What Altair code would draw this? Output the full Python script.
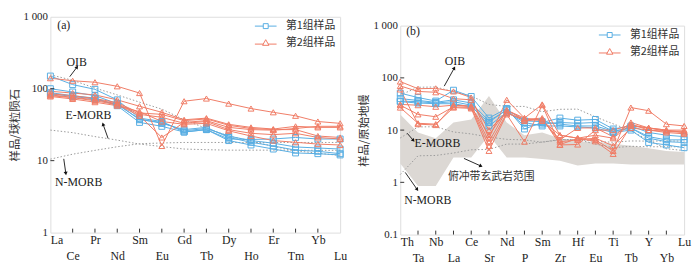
import json
import altair as alt
import pandas as pd

# ---------------- data ----------------
REE = ["La", "Ce", "Pr", "Nd", "Sm", "Eu", "Gd", "Tb", "Dy", "Ho", "Er", "Tm", "Yb", "Lu"]
TRACE = ["Th", "Ta", "Nb", "La", "Ce", "Sr", "Nd", "P", "Sm", "Zr", "Hf", "Eu", "Ti", "Tb", "Y", "Yb", "Lu"]
GROUPS = ["第1组样品", "第2组样品"]

# chondrite-normalised REE, group 1 (blue) and group 2 (red)
ree_g1 = [
    [150, 114, 98, 70, 39, 35, 25, 27, 20, 19.7, 20, 21, 20, 20],
    [100, 90, 80, 62, 37, 34, 26, 28, 22, 19, 17.5, 15.5, 15, 14.5],
    [88, 80, 74, 58, 34, 30, 25, 27, 19, 16.5, 14.5, 12.8, 12.5, 12],
    [85, 78, 72, 60, 38, 33, 27, 29, 21, 18, 16, 14, 13.5, 12.5],
]
ree_g2 = [
    [140, 129, 123, 108, 87, 16, 67, 73, 62, 53, 47, 42, 35, 33],
    [92, 87, 82, 70, 57, 47, 37, 39, 32, 29, 27.5, 30, 29, 29],
    [85, 80, 73, 64, 46, 44, 36, 38, 31, 28, 27, 27, 22, 21],
    [80, 75, 68, 60, 42, 21, 34, 36, 29, 27, 26.5, 28, 30, 30],
    [82, 76, 70, 62, 44, 40, 33, 35, 27, 24, 23, 24, 21, 20],
    [78, 72, 65, 58, 48, 35, 32, 33, 26, 22, 19, 18, 17, 16.5],
]
ree_oib = [156, 131, 102, 82, 65, 52, 37, 28, 22, 18.7, 15.8, 13.7, 12.7, 11.8]
ree_emorb = [26.6, 24.5, 21.6, 19.3, 17.0, 15.7, 14.5, 14.2, 14.0, 14.0, 14.0, 14.0, 13.9, 13.9]
ree_nmorb = [10.5, 12.3, 13.9, 15.6, 17.2, 17.6, 17.9, 17.9, 17.9, 17.8, 17.9, 17.9, 17.9, 17.9]

# primitive-mantle-normalised trace elements
tr_g1 = [
    [51, 42, 36, 58, 44, 17, 26, 10.5, 14, 17, 15.5, 16, 10.5, 12, 9, 8, 7.5],
    [40, 37, 34, 38, 33, 15, 24, 12, 13, 14, 13.5, 14, 9.5, 11, 7.5, 6.5, 6.5],
    [36, 35, 33, 35, 30, 12, 22, 14, 12, 12, 11.5, 11, 9, 10, 5.8, 5.2, 4.6],
    [35, 33, 32, 32, 28, 14, 25, 15, 14.5, 13, 12, 12, 9.5, 11, 7, 6, 5.8],
]
tr_g2 = [
    [85, 62, 63, 55, 42, 7, 38, 17, 31, 8, 7, 6.5, 4.0, 27, 23.5, 13, 12],
    [70, 55, 53, 40, 38, 10, 22, 15, 16, 6.5, 11, 11, 7.5, 14, 11, 10, 10],
    [30, 20, 18, 28, 27, 5, 21, 16, 17, 5.3, 6.9, 6.1, 3.5, 12, 11, 10, 9],
    [27, 13.5, 13, 27, 26, 4, 20, 6, 30, 5.2, 5.3, 10, 10, 12.5, 11, 9.5, 9.5],
    [60, 13, 12.5, 30, 28, 8, 24, 17, 15, 8, 7, 8, 7, 13, 10, 9.5, 9],
    [31, 30, 28, 30, 29, 6, 24, 16, 16, 6, 6.5, 7, 5, 11, 10, 9, 8.5],
]
tr_oib = [47, 66, 67, 54, 45, 31, 28.4, 28.4, 22.5, 25, 25.2, 17.9, 13.2, 9.7, 6.4, 4.4, 4.05]
tr_emorb = [7.06, 11.5, 11.6, 9.2, 8.45, 7.35, 6.65, 6.5, 5.86, 6.5, 6.57, 5.4, 4.6, 4.9, 4.8, 4.8, 4.8]
tr_nmorb = [1.41, 3.22, 3.27, 3.64, 4.2, 4.27, 5.4, 5.4, 5.9, 6.6, 6.6, 6.1, 5.85, 6.2, 6.15, 6.2, 6.15]
arc_upper = [20, 9, 7, 14, 16, 45, 14, 8, 9, 7, 6, 6, 5.5, 5, 4.5, 4, 3.8]
arc_lower = [2.3, 0.85, 0.85, 3, 3, 8, 3, 3, 2.8, 2.6, 2.1, 2.3, 2.3, 2.2, 2.2, 2.2, 2.2]

yticks_a = [1, 10, 100, 1000]
ylabels_a = ["1", "10", "100", "1 000"]
yticks_b = [0.1, 1, 10, 100, 1000]
ylabels_b = ["0.1", "1", "10", "100", "1 000"]

notes_a = [("(a)", 0.6, 767), ("OIB", 1.18, 235), ("E-MORB", 1.71, 42.5), ("N-MORB", 1.27, 5.07)]
arrows_a = [(0.87, 147, 1.18, 197, 35), (2.59, 20.3, 2.37, 31.6, 342), (0.6, 10.6, 0.69, 6.76, 172)]
notes_b = [("(b)", 0.72, 780), ("OIB", 3.08, 210), ("E-MORB", 2.1, 5.76), ("N-MORB", 1.55, 0.455)]
notes_b_cjk = [("俯冲带玄武岩范围", 5.13, 1.26)]
arrows_b = [(2.48, 69.5, 3.03, 151, 28), (0.39, 8.7, 0.72, 6.45, 139),
            (0.28, 1.55, 0.94, 0.74, 146), (3.59, 2.87, 4.52, 2.07, 115)]

# ---------------- style ----------------
BLUE = "#58aee3"
RED = "#f07c66"
REFC = "#9a9a9a"
AREA = "#dcd8d4"
SERIF = "Liberation Serif"
CJK = "Noto Sans CJK SC"
SQ_PATH = "M-2.2,0L-0.5,0M0.5,0L2.2,0M-0.5,-0.5L0.5,-0.5L0.5,0.5L-0.5,0.5Z"
TR_PATH = "M-2.2,0.25L-0.45,0.25M0.45,0.25L2.2,0.25M0,-0.65L0.65,0.5L-0.65,0.5Z"


def samples_df(g1, g2):
    rows = []
    for gname, sets, tag in ((GROUPS[0], g1, "a"), (GROUPS[1], g2, "b")):
        for k, vals in enumerate(sets):
            for i, v in enumerate(vals):
                rows.append({"x": i, "v": v, "group": gname, "sample": f"{tag}{k}"})
    return pd.DataFrame(rows)


def refs_df(refs):
    rows = []
    for name, vals in refs.items():
        for i, v in enumerate(vals):
            rows.append({"x": i, "v": v, "name": name})
    return pd.DataFrame(rows)


def panel(elements, smp, refs, yticks, ylabels, ytitle, width, height,
          notes, arrows, notes_cjk=None, area=None):
    n = len(elements)
    xscale = alt.Scale(domain=[0, n - 1], nice=False, zero=False)
    yscale = alt.Scale(type="log", domain=[yticks[0], yticks[-1]], nice=False)
    names = json.dumps(elements)
    xaxis = alt.Axis(
        values=list(range(n)),
        labelExpr=f"datum.value % 2 == 1 ? ['', {names}[datum.value]] : {names}[datum.value]",
        labelAlign={"expr": "datum.value == 0 ? 'left' : 'center'"},
        title=None, grid=False, domain=False, ticks=False, tickSize=0,
        labelFont=SERIF, labelFontSize=12, labelColor="#222", labelPadding=2,
        labelLineHeight=16, labelOverlap=False, labelFlush=False, labelAngle=0,
    )
    yaxis = alt.Axis(
        values=yticks,
        labelExpr=f"{json.dumps(ylabels)}[indexof({json.dumps(yticks)}, datum.value)]",
        title=ytitle, titleFont=CJK, titleFontSize=11.5, titleFontWeight="normal",
        titleColor="#333", titlePadding=3, grid=False, domain=False, ticks=False,
        tickSize=0, labelFont=SERIF, labelFontSize=11, labelColor="#222", labelPadding=3,
        labelOverlap=False,
    )
    X = alt.X("x:Q", scale=xscale, axis=xaxis)
    Y = alt.Y("v:Q", scale=yscale, axis=yaxis)
    cscale = alt.Scale(domain=GROUPS, range=[BLUE, RED])
    layers = []
    if area is not None:
        layers.append(alt.Chart(area).mark_area(color=AREA, opacity=1).encode(
            x=X, y=alt.Y("hi:Q", scale=yscale, axis=yaxis), y2="lo:Q"))
    layers.append(alt.Chart(refs).mark_line(color=REFC, strokeDash=[1.5, 2], strokeWidth=1).encode(
        x=X, y=Y, detail="name:N"))
    layers.append(alt.Chart(smp).mark_line(strokeWidth=1).encode(
        x=X, y=Y, color=alt.Color("group:N", scale=cscale, legend=None), detail="sample:N"))
    layers.append(alt.Chart(smp).mark_point(filled=False, strokeWidth=1, size=36, opacity=1).encode(
        x=X, y=Y, color=alt.Color("group:N", scale=cscale, legend=None),
        shape=alt.Shape("group:N", scale=alt.Scale(domain=GROUPS, range=["square", "triangle-up"]), legend=None),
        detail="sample:N"))
    leg = alt.Legend(orient="top-right", title=None, offset=3, padding=1, labelFont=CJK,
                     labelFontSize=11, labelColor="#333", labelOffset=15, symbolSize=100,
                     symbolStrokeWidth=1, rowPadding=5, labelLimit=200)
    layers.append(alt.Chart(smp).mark_point(filled=False, strokeWidth=1, opacity=0).encode(
        x=X, y=Y, color=alt.Color("group:N", scale=cscale, legend=leg),
        shape=alt.Shape("group:N", scale=alt.Scale(domain=GROUPS, range=[SQ_PATH, TR_PATH]), legend=leg)))
    # inner tick marks
    lo = yticks[0]
    xfac = 10 ** (4 / (height / (len(yticks) - 1)))
    xt = pd.DataFrame({"x": list(range(1, n - 1)), "v": [lo] * (n - 2), "v2": [lo * xfac] * (n - 2)})
    layers.append(alt.Chart(xt).mark_rule(color="#333", strokeWidth=1).encode(
        x=X, y=Y, y2="v2:Q"))
    xlen = 4 / (width / (n - 1))
    yt = pd.DataFrame({"x": [0] * (len(yticks) - 2), "x2": [xlen] * (len(yticks) - 2), "v": yticks[1:-1]})
    layers.append(alt.Chart(yt).mark_rule(color="#333", strokeWidth=1).encode(
        x=X, x2="x2:Q", y=Y))
    # annotations
    nd = pd.DataFrame(notes, columns=["t", "x", "v"])
    layers.append(alt.Chart(nd).mark_text(font=SERIF, fontSize=12, color="#222").encode(
        x=X, y=Y, text="t:N"))
    if notes_cjk:
        nc = pd.DataFrame(notes_cjk, columns=["t", "x", "v"])
        layers.append(alt.Chart(nc).mark_text(font=CJK, fontSize=11, color="#333").encode(
            x=X, y=Y, text="t:N"))
    arows = []
    heads = []
    for k, (x0, v0, x1, v1, ang) in enumerate(arrows):
        arows.append({"x": x0, "v": v0, "id": k})
        arows.append({"x": x1, "v": v1, "id": k})
        heads.append({"x": x1, "v": v1, "ang": ang})
    layers.append(alt.Chart(pd.DataFrame(arows)).mark_line(color="#111", strokeWidth=0.9).encode(
        x=X, y=Y, detail="id:N"))
    layers.append(alt.Chart(pd.DataFrame(heads)).mark_point(shape="triangle", filled=True, size=16,
                                                           color="#111", opacity=1).encode(
        x=X, y=Y, angle=alt.Angle("ang:Q", scale=None)))
    return alt.layer(*layers).resolve_scale(color="independent", shape="independent").properties(
        width=width, height=height)


smp_a = samples_df(ree_g1, ree_g2)
ref_a = refs_df({"OIB": ree_oib, "E-MORB": ree_emorb, "N-MORB": ree_nmorb})
smp_b = samples_df(tr_g1, tr_g2)
ref_b = refs_df({"OIB": tr_oib, "E-MORB": tr_emorb, "N-MORB": tr_nmorb})
area_b = pd.DataFrame({"x": list(range(len(TRACE))), "hi": arc_upper, "lo": arc_lower})

pa = panel(REE, smp_a, ref_a, yticks_a, ylabels_a, "样品/球粒陨石", 294, 219, notes_a, arrows_a)
pb = panel(TRACE, smp_b, ref_b, yticks_b, ylabels_b, "样品/原始地幔", 288, 212, notes_b, arrows_b,
           notes_cjk=notes_b_cjk, area=area_b)

# invisible spacer that pushes panel (b) a little lower, as in the original figure
spacer = alt.Chart(pd.DataFrame({"x": [0]})).mark_rule(strokeOpacity=0, strokeWidth=0).encode(
    x=alt.value(0), x2=alt.value(1), y=alt.value(0), y2=alt.value(0)
).properties(width=288, height=1, view=alt.ViewBackground(stroke="transparent"))

right = alt.vconcat(spacer, pb, spacing=0)

chart = alt.hconcat(pa, right, spacing=10).resolve_scale(
    color="independent", shape="independent").resolve_legend(
    color="independent", shape="independent").properties(padding=0).configure_view(
    stroke="#444", strokeWidth=1.2).configure(background="white")

chart.save("out.html", embed_options={"renderer": "svg", "actions": False})
